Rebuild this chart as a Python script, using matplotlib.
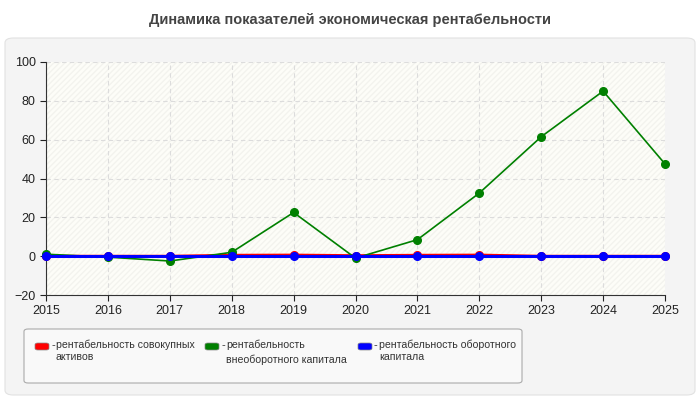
import matplotlib
matplotlib.use("Agg")
import matplotlib.pyplot as plt
from matplotlib.patches import FancyBboxPatch, Rectangle

# === data ===
years = [2015, 2016, 2017, 2018, 2019, 2020, 2021, 2022, 2023, 2024, 2025]
roa_total = [0, 0, 0, 0.5, 0.6, 0.3, 0.5, 0.6, 0, 0, 0]
roa_fixed = [1, -0.5, -2.5, 2, 22.5, -1, 8.5, 32.5, 61.5, 85, 47.5]
roa_current = [0, 0, 0, 0, 0, 0, 0, 0, 0, 0, 0]

labels = ["рентабельность совокупных\nактивов",
          "рентабельность\nвнеоборотного капитала",
          "рентабельность оборотного\nкапитала"]
colors = ["#ff0000", "#008000", "#0000ff"]
title = "Динамика показателей экономическая рентабельности"

plt.rcParams['font.family'] = ['Liberation Sans', 'DejaVu Sans']

fig = plt.figure(figsize=(7, 4), dpi=100)
fig.patch.set_facecolor("white")

# outer grey panel
panel = FancyBboxPatch((5 / 700, 5 / 400), 690 / 700, 357 / 400,
                       boxstyle="round,pad=0,rounding_size=0.012",
                       transform=fig.transFigure, facecolor="#f4f4f4",
                       edgecolor="#e2e2e2", linewidth=0.8, zorder=-5)
fig.patches.append(panel)

fig.text(0.5, 1 - 20 / 400, title, ha="center", va="center",
         fontsize=10.5, fontweight="bold", color="#444444")

ax = fig.add_axes([46 / 700, 105 / 400, 619 / 700, 233 / 400])
ax.set_zorder(2)
ax.set_facecolor("#fdfdf8")
ax.add_patch(Rectangle((0, 0), 1, 1, transform=ax.transAxes, facecolor="none",
                       edgecolor="#f3f3ee", hatch="//////", linewidth=0, zorder=0))

ax.plot(years, roa_total, color=colors[0], lw=2, marker="o", ms=5.5, zorder=3, clip_on=False)
ax.plot(years, roa_fixed, color=colors[1], lw=1.2, marker="o", ms=5.5, zorder=4, clip_on=False)
ax.plot(years, roa_current, color=colors[2], lw=2.2, marker="o", ms=5.5, zorder=5, clip_on=False)

ax.set_xlim(2015, 2025)
ax.set_ylim(-20, 100)
ax.set_xticks(years)
ax.set_yticks(range(-20, 101, 20))
ax.grid(True, color="#dcdcdc", linestyle=(0, (4, 3)), linewidth=0.8)
ax.set_axisbelow(True)
for s in ["top", "right"]:
    ax.spines[s].set_visible(False)
for s in ["left", "bottom"]:
    ax.spines[s].set_color("#333333")
    ax.spines[s].set_linewidth(0.8)
ax.tick_params(labelsize=9, colors="#222222", length=4, width=0.8)

# legend box
leg = FancyBboxPatch((24 / 700, 17 / 400), 498 / 700, 54 / 400,
                     boxstyle="round,pad=0,rounding_size=0.006",
                     transform=fig.transFigure, facecolor="#f9f9f9",
                     edgecolor="#aaaaaa", linewidth=0.8, zorder=-4)
fig.patches.append(leg)

sw_x = [35, 205, 358]
for x0, c, lab, ls in zip(sw_x, colors, labels, [1.15, 1.5, 1.15]):
    fig.patches.append(FancyBboxPatch((x0 / 700, 50 / 400), 14 / 700, 7 / 400,
                                      boxstyle="round,pad=0,rounding_size=0.004",
                                      transform=fig.transFigure, facecolor=c,
                                      edgecolor="#888888", linewidth=0.5, zorder=-3))
    fig.text((x0 + 16) / 700, 1 - 340 / 400, "-", fontsize=8, va="top", color="#333333")
    fig.text((x0 + 21) / 700, 1 - 340 / 400, lab, fontsize=7.6, va="top",
             color="#333333", linespacing=ls)

fig.savefig("out.png", dpi=100, facecolor=fig.get_facecolor())
